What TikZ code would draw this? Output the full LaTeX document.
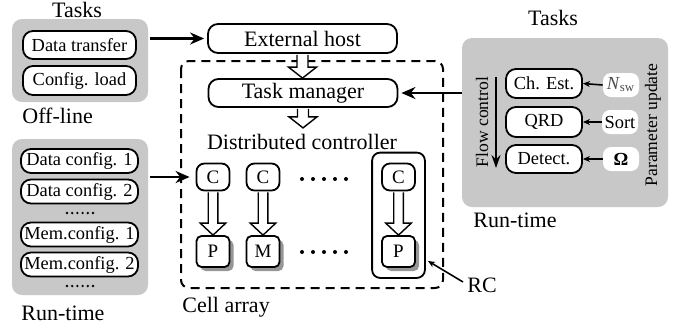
\documentclass[tikz,border=0pt]{standalone}
\usepackage{fontspec}
\setmainfont{Liberation Serif}
\usepackage{tikz}
\usetikzlibrary{arrows.meta,positioning,calc,fit,shadows}
\definecolor{panelgray}{RGB}{200,200,200}
\definecolor{shadowgray}{RGB}{150,150,150}
\tikzset{
    panel/.style={rectangle, rounded corners=5pt, fill=panelgray, inner sep=0pt},
    lbl/.style={inner sep=1pt, font=\fontsize{11}{13}\selectfont},
    sidelbl/.style={inner sep=1pt, rotate=90, font=\fontsize{8.8}{10}\selectfont},
    taskbox/.style={rectangle, rounded corners=5pt, draw, fill=white, line width=0.9pt, inner sep=0pt, font=\fontsize{9.2}{11}\selectfont},
    hostbox/.style={taskbox, minimum width=94.5pt, minimum height=14.5pt, font=\fontsize{11}{13}\selectfont},
    param/.style={rectangle, rounded corners=4pt, fill=white, inner sep=0pt, minimum width=18pt, minimum height=12pt, font=\fontsize{9.2}{11}\selectfont},
    cellC/.style={rectangle, rounded corners=4pt, draw, fill=white, line width=0.9pt, inner sep=0pt, minimum width=16.5pt, minimum height=13.5pt, font=\fontsize{9.5}{11}\selectfont},
    cellP/.style={cellC, rounded corners=2.5pt, minimum height=15.5pt, drop shadow={shadow xshift=2pt, shadow yshift=-2pt, fill=shadowgray, opacity=1}},
    cellarray/.style={draw, line width=1pt, dash pattern=on 4.5pt off 3pt, rounded corners=4pt},
    rcframe/.style={draw, line width=0.9pt, rounded corners=4pt, inner xsep=4.5pt, inner ysep=5pt},
    bigarrow/.style={-{Stealth[length=7pt,width=6pt]}, line width=1.4pt},
    flowarrow/.style={-{Stealth[length=6.5pt,width=4.5pt]}, line width=1.3pt},
    smallarrow/.style={-{Stealth[length=3.5pt,width=3pt]}, line width=0.8pt},
    hollow/.style={draw=black, line width=0.7pt, line join=miter},
}
% hollow block arrow: start, end, shaft half width, head half width, head length
\newcommand{\hollowdown}[5]{%
    \fill[white] let \p1=#1, \p2=#2 in
        (\x1-#3,\y1-0.45pt) -- (\x1-#3,\y2+#5) -- (\x1-#4,\y2+#5) -- (\x1,\y2)
        -- (\x1+#4,\y2+#5) -- (\x1+#3,\y2+#5) -- (\x1+#3,\y1-0.45pt) -- cycle;
    \draw[hollow] let \p1=#1, \p2=#2 in
        (\x1-#3,\y1-0.45pt) -- (\x1-#3,\y2+#5) -- (\x1-#4,\y2+#5) -- (\x1,\y2)
        -- (\x1+#4,\y2+#5) -- (\x1+#3,\y2+#5) -- (\x1+#3,\y1-0.45pt);
}
% row of dots: first x, y, count, spacing, radius
\newcommand{\dotrow}[5]{%
    \foreach \k in {1,...,#3} \fill ({#1+(\k-1)*#4},#2) circle (#5);
}

\begin{document}
\begin{tikzpicture}[x=0.5pt, y=-0.5pt]
    \useasboundingbox (0,0) rectangle (683,323);

    % Off-line tasks
    \node[lbl] (offtasks) at (77,10) {Tasks};
    \node[panel, minimum width=68pt, minimum height=41.5pt] (offpanel) at (80,60.5) {};
    \node[taskbox, minimum width=56.5pt, minimum height=14pt] (xfer) at (79.5,45) {Data transfer};
    \node[taskbox, minimum width=56.5pt, minimum height=14.5pt] (cfgload) at (79.5,80.5) {Config. load};
    \node[lbl, anchor=west] (offline) at (20,116) {Off-line};

    % Run-time configurations
    \node[panel, minimum width=68pt, minimum height=78pt] (runpanel) at (80,217) {};
    \foreach \i/\y/\t in {1/161/Data config. 1, 2/191.5/Data config. 2, 3/234.5/Mem.config. 1, 4/264.5/Mem.config. 2} {
        \node[taskbox, minimum width=58.5pt, minimum height=12pt] (cfg\i) at (79.5,\y) {\t};
    }
    \dotrow{67}{213}{6}{5.2}{0.65pt}
    \dotrow{67}{286}{6}{5.2}{0.65pt}
    \node[lbl, anchor=west] (runleft) at (19,313) {Run-time};

    % Host and cell array
    \node[hostbox] (exthost) at (302.5,38.5) {External host};
    \draw[cellarray] (181,61) rectangle (443,288);
    \node[hostbox, minimum height=14pt] (taskmgr) at (303,93) {Task manager};
    \node[lbl] (dctrl) at (302,142) {Distributed controller};
    \node[lbl, anchor=west] (cellarr) at (180,307) {Cell array};
    \hollowdown{(exthost.south)}{(taskmgr.north)}{2.75pt}{7pt}{5.5pt}
    \hollowdown{(taskmgr.south)}{($(dctrl.north)+(0,2pt)$)}{2.75pt}{7pt}{5.5pt}

    % Cells
    \foreach \i/\x/\t in {1/213/P, 2/263/M, 3/398.5/P} {
        \node[cellC] (C\i) at (\x,177) {C};
        \node[cellP] (P\i) at (\x,251.5) {\t};
        \hollowdown{(C\i.south)}{(P\i.north)}{2.4pt}{6.4pt}{6pt}
    }
    \dotrow{302}{179}{5}{11}{1pt}
    \dotrow{302}{252}{5}{11}{1pt}
    \node[rcframe, fit=(C3)(P3)] (rcbox) {};
    \node[lbl, anchor=west] (rclabel) at (465,285) {RC};
    \coordinate (rctip) at (428,261);
    \draw[smallarrow] (rclabel.west) ++(-1pt,1.5pt) -- (rctip);

    % Run-time tasks
    \node[lbl] (rttasks) at (553,18) {Tasks};
    \node[panel, minimum width=103pt, minimum height=84.5pt] (rtpanel) at (565,122.5) {};
    \node[taskbox, minimum width=38pt, minimum height=14.5pt] (chest) at (544,83.5) {Ch. Est.};
    \node[taskbox, minimum width=38pt, minimum height=15pt] (qrd) at (544,122) {QRD};
    \node[taskbox, minimum width=38pt, minimum height=14pt] (detect) at (544,159) {Detect.};
    \node[param] (nsw) at (621,85) {\textcolor{black!70}{\textit{N}\textsubscript{sw}}};
    \node[param] (sort) at (620,122) {Sort};
    \node[param] (omega) at (621,159) {\bfseries Ω};
    \draw[smallarrow] (nsw.west) -- (chest.east);
    \draw[smallarrow] (sort.west) -- (qrd.east);
    \draw[smallarrow] (omega.west) -- (detect.east);
    \coordinate (flowtop) at (496,77);
    \coordinate (flowbot) at (496,168);
    \draw[flowarrow] (flowtop) -- (flowbot);
    \node[sidelbl] (flowlbl) at (482,122) {Flow control};
    \node[sidelbl] (parlbl) at (653,125) {Parameter update};
    \node[lbl] (runright) at (515,220) {Run-time};

    % Task flows
    \draw[bigarrow, shorten <=1pt, shorten >=1.5pt] (offpanel.east |- exthost) -- (exthost.west);
    \draw[bigarrow, shorten <=1pt, shorten >=3pt] (runpanel.east |- C1) -- (C1.west);
    \draw[bigarrow, shorten >=1.5pt] (rtpanel.west |- taskmgr) -- (taskmgr.east);
\end{tikzpicture}
\end{document}
